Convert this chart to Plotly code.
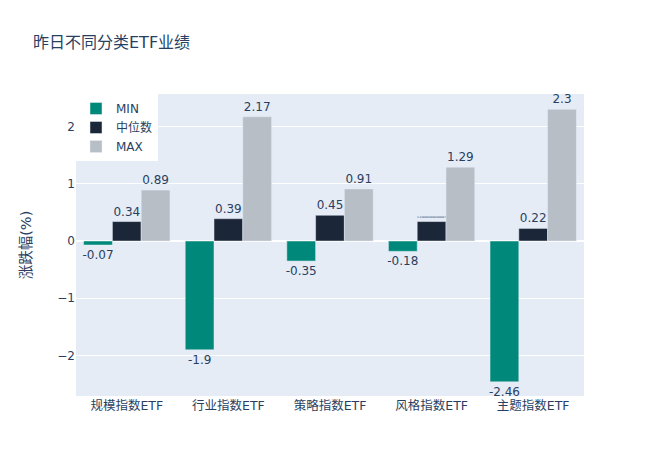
import plotly.graph_objects as go

categories = ["规模指数ETF", "行业指数ETF", "策略指数ETF", "风格指数ETF", "主题指数ETF"]
min_vals = [-0.07, -1.9, -0.35, -0.18, -2.46]
median_vals = [0.34, 0.39, 0.45, 0.33999999999999997, 0.22]
max_vals = [0.89, 2.17, 0.91, 1.29, 2.3]

series = [
    ("MIN", min_vals, "#00897b", "none"),
    ("中位数", median_vals, "#1c2639", "both"),
    ("MAX", max_vals, "#b7bec6", "both"),
]

fig = go.Figure()
for name, vals, color, constrain in series:
    fig.add_trace(go.Bar(
        x=categories, y=vals, name=name,
        marker_color=color,
        text=[repr(v) for v in vals],
        textposition="outside",
        constraintext=constrain,
        cliponaxis=False,
    ))

fig.update_layout(
    width=660, height=472,
    font=dict(family="DejaVu Sans, Noto Sans CJK SC, sans-serif", size=12, color="#2a3f5f"),
    title=dict(text="昨日不同分类ETF业绩", x=25 / 660, xanchor="left",
               y=1 - 34 / 472, yanchor="middle", yref="container",
               font=dict(size=16, color="#2a3f5f")),
    barmode="group",
    bargap=0.15,
    margin=dict(l=68, r=84, t=86, b=84),
    yaxis=dict(title=dict(text="涨跌幅(%)", standoff=22, font=dict(size=14.5)),
               range=[-2.707, 2.568], zeroline=True,
               zerolinecolor="white", zerolinewidth=2, automargin=False),
    xaxis=dict(automargin=False, tickfont=dict(size=12.5)),
    legend=dict(x=0, y=1, xanchor="left", yanchor="top", bgcolor="white"),
    plot_bgcolor="#e5ecf6",
)

fig.write_html("out.html")
